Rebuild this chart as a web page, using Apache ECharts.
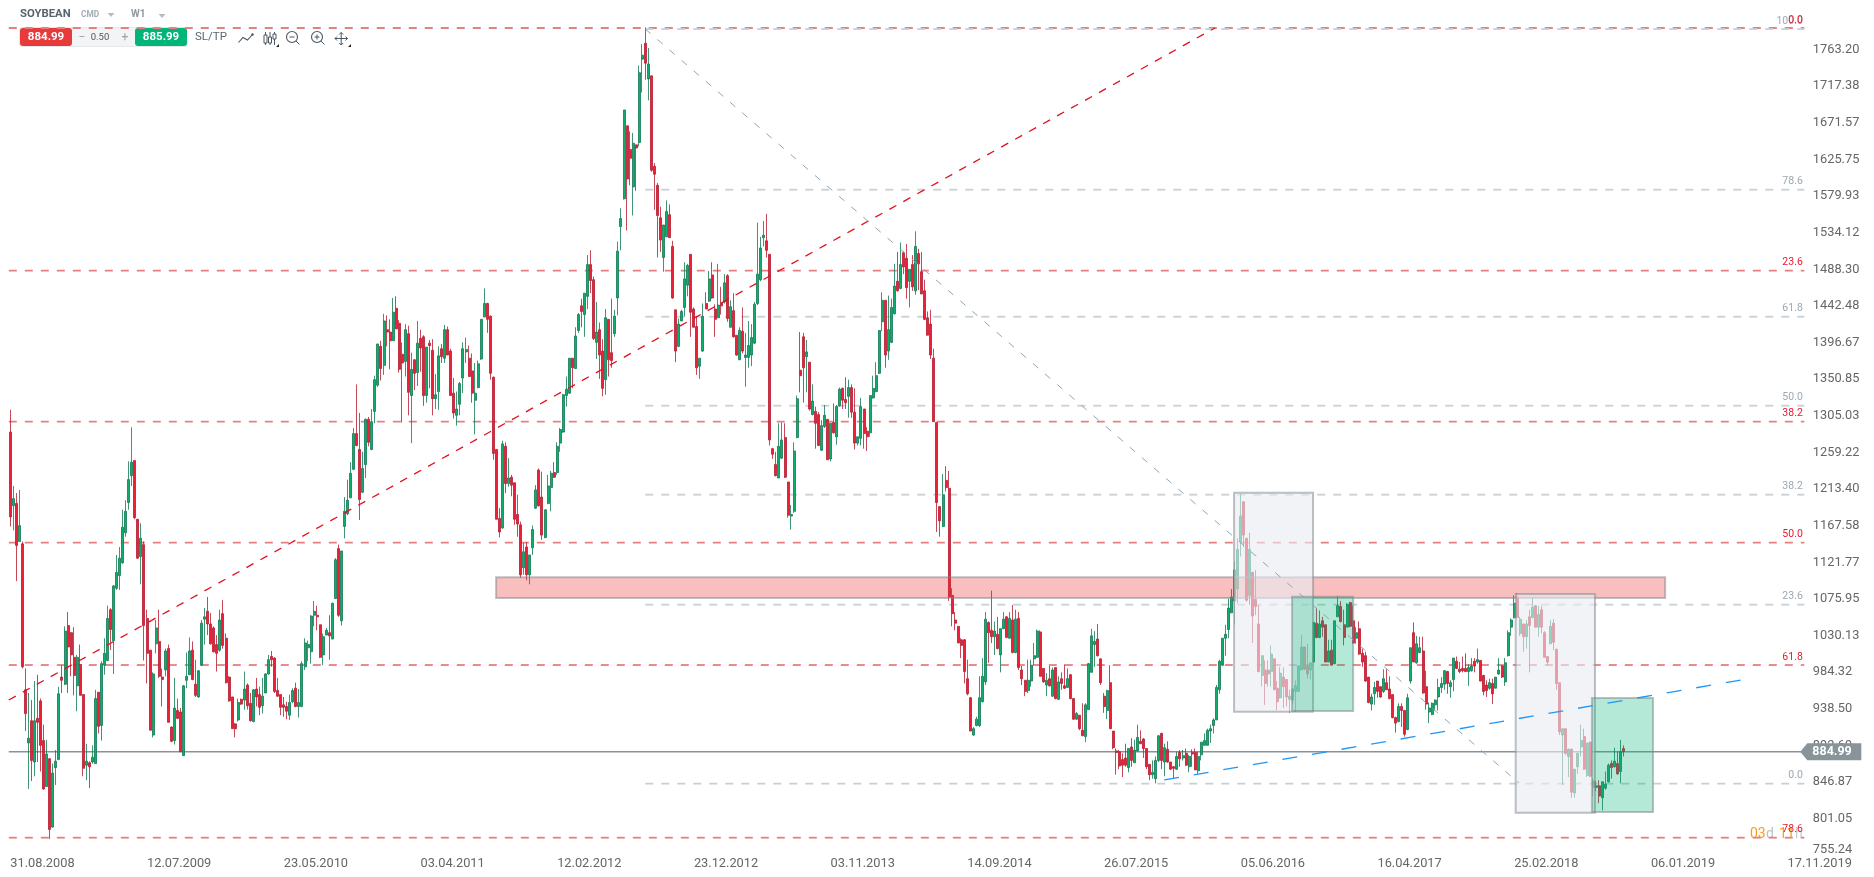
<!DOCTYPE html>
<html><head><meta charset="utf-8"><title>SOYBEAN W1</title>
<style>html,body{margin:0;padding:0;background:#fff}#c{width:1874px;height:877px}</style>
<script src="https://cdn.jsdelivr.net/npm/echarts@6/dist/echarts.min.js"></script>
</head><body><div id="c"></div><script>
// weekly candles: [open, close, low, high]
const weeks000=[[1288,1181,1169,1316],[1195,1204,1164,1220],[1198,1145,1100,1211],[1150,1170,1150,1215],[1147,992,990,1150],[963,933,911,990],[896,902,838,959],[924,874,848,950],[872,924,854,974],[927,922,872,982],[949,893,860,952],[899,838,837,919],[841,882,841,900],[876,787,775,877],[790,858,789,870],[865,873,843,887],[875,958,875,967],[979,975,959,994],[970,1037,969,1043],[1044,1017,959,1061],[1035,1007,980,1036],[1004,981,956,1042],[968,1004,936,1007],[995,956,956,1020],[957,864,854,957],[868,873,849,895],[871,866,839,873],[872,878,870,893],[870,952,870,963],[960,917,908,960],[918,996,899,999],[994,1009,982,1028],[1000,1053,999,1069],[1064,1039,1013,1066],[1025,1094,983,1095],[1091,1111,1089,1133],[1107,1129,1089,1143],[1123,1168,1122,1190],[1161,1188,1156,1202],[1199,1228,1190,1251],[1233,1250,1220,1294],[1252,1180,1178,1252],[1178,1129,1128,1178],[1131,1154,1096,1173],[1146,1044,1000,1150],[1053,1009,971,1064],[1013,912,912,1013],[906,983,903,985],[1021,1041,1009,1051],[1024,980,978,1064]];
const weeks050=[[979,976,942,990],[988,1012,980,1015],[1015,922,922,1020],[916,898,897,917],[899,940,894,978],[937,927,926,952],[935,885,885,940],[880,968,880,969],[975,980,965,1010],[982,1012,982,1029],[1013,976,975,1024],[970,956,954,1001],[954,987,953,988],[994,1047,993,1051],[1052,1055,1020,1066],[1062,1046,1032,1080],[1046,1021,1020,1060],[1041,1011,1010,1043],[1020,1009,986,1032],[1013,1051,1011,1064],[1059,1019,1015,1076],[1028,972,971,1034],[979,949,948,980],[954,914,914,954],[920,914,903,921],[925,947,923,952],[951,945,944,952],[950,964,938,986],[969,943,938,971],[946,924,923,959],[923,963,922,964],[964,954,942,978],[957,941,931,967],[943,955,933,978],[959,983,959,984],[983,1001,982,1007],[1005,1001,992,1012],[1003,961,959,1004],[962,955,954,978],[957,941,931,957],[944,941,929,954],[942,936,926,948],[931,947,925,957],[948,962,946,965],[965,942,941,972],[942,947,928,964],[942,996,941,999],[992,1022,988,1028],[1016,1020,999,1025],[1011,1056,996,1057]];
const weeks100=[[1057,1062,1043,1075],[1057,1055,1038,1069],[1045,1004,1003,1045],[1007,1030,994,1034],[1032,1038,1032,1041],[1035,1031,1001,1057],[1027,1072,1027,1073],[1078,1127,1078,1129],[1141,1057,1055,1146],[1050,1138,1044,1138],[1169,1188,1154,1206],[1185,1202,1183,1228],[1205,1236,1205,1250],[1241,1286,1240,1293],[1286,1271,1270,1348],[1266,1203,1177,1312],[1212,1242,1211,1263],[1247,1304,1230,1305],[1304,1275,1270,1307],[1266,1301,1265,1317],[1314,1354,1299,1359],[1347,1399,1345,1399],[1396,1368,1353,1403],[1372,1428,1360,1437],[1417,1414,1396,1435],[1414,1403,1367,1430],[1403,1439,1403,1457],[1444,1418,1418,1459],[1425,1367,1363,1429],[1386,1375,1300,1401],[1377,1417,1358,1424],[1412,1338,1309,1422],[1334,1367,1274,1388],[1379,1362,1341,1380],[1363,1400,1346,1428],[1406,1394,1364,1417],[1408,1334,1321,1410],[1334,1395,1325,1395],[1400,1397,1343,1404],[1391,1330,1309,1405],[1330,1335,1317,1361],[1339,1384,1316,1396],[1393,1383,1375,1399],[1381,1417,1375,1423],[1417,1385,1385,1421],[1390,1334,1334,1393],[1337,1312,1305,1356],[1309,1317,1296,1339],[1323,1349,1309,1351],[1356,1393,1337,1401]];
const weeks150=[[1389,1392,1375,1407],[1381,1358,1358,1397],[1365,1337,1325,1387],[1328,1337,1285,1375],[1344,1374,1343,1378],[1380,1430,1379,1430],[1433,1450,1433,1469],[1450,1430,1413,1451],[1434,1362,1354,1435],[1357,1261,1253,1358],[1266,1178,1178,1266],[1179,1162,1155,1192],[1167,1273,1166,1277],[1270,1223,1211,1275],[1223,1230,1219,1255],[1231,1221,1207,1234],[1224,1178,1171,1224],[1184,1172,1156,1209],[1171,1108,1104,1175],[1117,1137,1108,1148],[1143,1108,1101,1149],[1108,1133,1096,1133],[1142,1165,1133,1170],[1192,1215,1191,1221],[1240,1195,1194,1242],[1206,1158,1152,1238],[1155,1190,1154,1190],[1198,1220,1197,1234],[1218,1236,1188,1239],[1237,1231,1230,1250],[1237,1270,1234,1275],[1274,1291,1263,1293],[1288,1335,1287,1336],[1334,1342,1320,1358],[1337,1381,1336,1381],[1381,1369,1343,1381],[1368,1409,1368,1420],[1416,1436,1413,1438],[1447,1440,1420,1456],[1436,1463,1408,1463],[1459,1499,1443,1511],[1499,1479,1463,1517],[1480,1406,1404,1484],[1401,1414,1380,1452],[1417,1385,1355,1426],[1390,1343,1333,1405],[1354,1432,1335,1443],[1430,1379,1358,1430],[1388,1378,1369,1456],[1412,1434,1408,1442]];
const weeks200=[[1457,1516,1435,1528],[1547,1557,1517,1570],[1582,1694,1581,1694],[1674,1607,1542,1674],[1644,1633,1599,1667],[1597,1652,1561,1665],[1650,1646,1592,1650],[1653,1741,1648,1750],[1758,1763,1716,1777],[1778,1753,1732,1798],[1733,1752,1706,1772],[1737,1618,1616,1737],[1623,1613,1568,1627],[1599,1561,1508,1602],[1558,1530,1515,1572],[1508,1549,1490,1549],[1534,1566,1534,1580],[1562,1533,1533,1575],[1522,1457,1456,1529],[1442,1390,1376,1442],[1396,1424,1395,1431],[1428,1440,1428,1442],[1445,1481,1434,1502],[1473,1498,1459,1500],[1512,1439,1408,1512],[1443,1420,1420,1445],[1421,1369,1360,1434],[1371,1381,1355,1381],[1390,1434,1389,1450],[1450,1443,1443,1464],[1453,1481,1452,1491],[1486,1457,1456,1502],[1443,1430,1408,1449],[1432,1448,1432,1500],[1451,1447,1436,1471],[1452,1476,1450,1487],[1485,1431,1427,1487],[1420,1446,1420,1454],[1441,1408,1407,1463],[1410,1385,1384,1410],[1379,1416,1379,1420],[1415,1390,1387,1445],[1382,1385,1345,1413],[1382,1397,1369,1428],[1385,1407,1371,1424],[1400,1449,1399,1452],[1450,1487,1448,1552],[1480,1520,1478,1534],[1533,1536,1522,1554],[1529,1517,1508,1563]];
const weeks250=[[1512,1278,1271,1512],[1267,1260,1254,1268],[1247,1233,1232,1263],[1230,1270,1230,1299],[1255,1278,1254,1300],[1281,1231,1230,1299],[1225,1183,1180,1225],[1182,1184,1165,1196],[1188,1264,1186,1275],[1281,1330,1280,1334],[1366,1359,1338,1414],[1408,1369,1325,1413],[1383,1389,1338,1404],[1376,1317,1315,1376],[1310,1327,1309,1348],[1314,1299,1267,1320],[1310,1271,1271,1313],[1265,1296,1264,1303],[1295,1309,1293,1322],[1304,1253,1253,1304],[1254,1299,1251,1299],[1300,1287,1286,1324],[1282,1320,1272,1322],[1321,1342,1320,1344],[1343,1328,1317,1344],[1329,1325,1317,1357],[1333,1344,1306,1354],[1344,1313,1306,1348],[1313,1274,1266,1343],[1274,1282,1271,1282],[1280,1320,1271,1331],[1317,1286,1267,1317],[1289,1282,1264,1294],[1287,1334,1282,1334],[1331,1343,1330,1359],[1339,1359,1338,1376],[1362,1416,1361,1416],[1427,1454,1415,1464],[1454,1385,1369,1454],[1390,1417,1379,1460],[1401,1445,1400,1456],[1437,1472,1436,1500],[1478,1466,1465,1515],[1469,1499,1468,1527],[1514,1496,1487,1516],[1507,1470,1456,1525],[1478,1493,1445,1493],[1499,1471,1466,1511],[1466,1522,1461,1541],[1513,1500,1467,1519]];
const weeks300=[[1490,1462,1462,1515],[1466,1430,1429,1480],[1432,1410,1410,1440],[1424,1385,1380,1442],[1381,1301,1301,1393],[1300,1199,1162,1300],[1194,1176,1156,1194],[1169,1209,1168,1235],[1227,1218,1213,1245],[1217,1080,1075,1239],[1082,1059,1043,1091],[1051,1047,1038,1061],[1043,1022,1022,1043],[1026,1019,1003,1028],[1026,986,971,1027],[977,958,956,1001],[953,911,911,954],[906,914,905,916],[918,926,917,929],[918,953,916,980],[948,980,947,1003],[973,1052,969,1061],[1048,1035,997,1049],[1038,1030,1022,1088],[1030,1037,1007,1049],[1033,1015,1014,1055],[1007,1040,985,1040],[1040,1052,1040,1061],[1055,1029,1028,1056],[1028,1053,1028,1061],[1051,1010,1009,1070],[1010,1052,1009,1064],[1053,991,988,1061],[988,977,969,993],[975,961,955,975],[962,975,959,1001],[974,994,967,1001],[1002,1006,994,1022],[1004,1037,1003,1039],[1036,980,980,1038],[990,973,972,990],[969,975,955,984],[977,968,967,993],[955,988,954,991],[991,952,951,991],[951,973,950,980],[977,971,963,985],[968,965,964,995],[966,977,966,990],[982,952,951,983]];
const weeks350=[[952,926,925,952],[926,933,925,935],[931,914,912,931],[912,905,905,946],[904,944,897,946],[938,996,938,997],[985,1031,985,1040],[1020,1024,992,1037],[1027,1006,1005,1046],[1002,972,969,1002],[955,942,934,959],[937,962,926,963],[972,914,914,994],[911,890,888,911],[886,884,856,889],[885,867,863,887],[875,868,853,883],[877,868,866,895],[865,889,859,889],[891,874,866,902],[871,887,871,900],[886,903,885,919],[898,895,895,912],[901,889,877,902],[889,866,863,889],[869,856,849,869],[856,859,851,874],[851,874,845,879],[874,905,872,906],[908,874,863,909],[872,890,854,895],[888,872,871,898],[872,863,862,872],[866,864,851,867],[863,879,862,885],[884,876,866,887],[877,880,874,887],[883,868,867,889],[866,879,859,881],[884,882,866,888],[884,862,862,889],[861,879,857,885],[881,897,874,897],[893,899,893,908],[893,912,893,914],[911,914,896,919],[918,925,908,927],[925,966,925,969],[963,999,958,1001],[994,1028,993,1028]];
const weeks400=[[1028,1033,1006,1045],[1039,1066,1028,1078],[1060,1080,1060,1090],[1075,1114,1045,1125],[1090,1140,1072,1154],[1150,1182,1131,1210],[1200,1158,1143,1200],[1154,1076,1074,1154],[1082,1140,1070,1161],[1111,1056,1022,1112],[1077,1068,1057,1114],[1046,986,985,1070],[981,1006,967,1006],[988,971,944,1000],[988,983,967,1000],[986,1008,967,1019],[1002,963,963,1002],[965,948,937,974],[953,984,952,992],[979,967,940,991],[976,954,942,976],[951,955,934,963],[950,964,945,965],[961,968,935,975],[961,993,960,994],[988,1017,988,1032],[1017,989,988,1017],[993,983,977,1021],[988,997,976,998],[998,1048,998,1048],[1047,1029,1028,1066],[1029,1046,1028,1063],[1050,1042,1030,1055],[1045,998,998,1045],[998,1012,998,1026],[1013,994,994,1026],[996,1050,995,1050],[1055,1069,1055,1081],[1068,1049,1048,1075],[1045,1029,1019,1064],[1042,1071,1042,1072],[1073,1043,1042,1074],[1050,1022,1021,1069],[1028,1035,1021,1042],[1040,1008,1007,1049],[1009,998,992,1015],[1006,974,973,1011],[979,947,946,979],[945,954,937,958],[958,966,944,973]];
const weeks450=[[974,961,953,974],[967,954,953,967],[961,977,959,989],[972,963,963,989],[964,952,951,980],[957,928,927,957],[928,921,909,929],[923,942,922,946],[942,937,916,946],[937,907,904,937],[913,953,912,958],[974,1016,971,1016],[1035,998,998,1048],[997,1021,996,1031],[1010,1016,1009,1030],[1012,959,958,1030],[967,945,938,987],[935,940,921,947],[932,946,931,947],[944,950,937,951],[954,966,937,977],[966,971,959,979],[970,987,963,988],[986,971,958,987],[967,972,953,975],[976,1003,961,1003],[999,990,989,1005],[989,986,984,998],[990,987,985,1005],[990,986,986,1009],[986,991,968,995],[987,993,986,1003],[999,993,985,1003],[998,1001,996,1015],[1000,974,974,1000],[981,961,956,982],[969,962,954,975],[965,972,963,977],[971,958,945,977],[965,979,965,979],[983,988,982,1003],[993,979,978,994],[973,997,968,1003],[1006,1035,1005,1038],[1042,1051,1031,1053],[1054,1072,1053,1082],[1080,1054,1053,1085],[1034,1052,1031,1055],[1046,1030,1011,1046],[1030,1046,1015,1051]];
const weeks500=[[1055,1044,985,1064],[1054,1067,1053,1079],[1069,1042,1042,1070],[1042,1058,1030,1069],[1064,1042,1034,1069],[1035,1004,1003,1037],[1005,998,994,1005],[1021,1043,1021,1051],[1047,1023,1013,1052],[1014,971,963,1015],[972,910,906,972],[906,914,843,914],[914,883,881,914],[879,888,853,889],[888,834,827,889],[833,863,827,863],[866,883,857,883],[891,899,879,919],[904,863,862,914],[855,896,853,896],[897,854,853,898],[848,840,829,851],[840,842,835,848],[842,829,820,849],[827,847,811,847],[839,844,837,860],[847,868,846,870],[870,865,851,874],[866,873,865,890],[870,857,856,885],[860,885,845,900],[889,885,879,893]];

// levels and trend lines: week position on the time scale, price
const redLevels=[1790.3,1486.7,1297.8,1146.4,993.4,777.4];
const redLevelNames=['0.0','23.6','38.2','50.0','61.8','78.6'];
const greyLevels=[1789,1588,1429.1,1317.8,1206.5,1068.9,845];
const greyLevelNames=['100.0','78.6','61.8','50.0','38.2','23.6','0.0'];
const currentPrice=884.99;
const redTrend=[[0,949.7],[397,1790.3]];
const greyTrend=[[209.5,1789],[497.1,845.8]];
const blueTrend=[[380.3,849.6],[570.2,974.7]];
const pinkZone=[[160.4,545.2,1103.2,1077.3]];
const greyZones=[[403.3,429.3,1209,935],[496,522.1,1082.3,808.7]];
const greenZones=[[422.4,442.5,1078.9,935.9],[521.1,541.2,952.2,809.6]];
const yTicks=[1763.20,1717.38,1671.57,1625.75,1579.93,1534.12,1488.30,1442.48,1396.67,1350.85,1305.03,1259.22,1213.40,1167.58,1121.77,1075.95,1030.13,984.32,938.50,892.69,846.87,801.05,755.24];
const xTickLabels=['31.08.2008','12.07.2009','23.05.2010','03.04.2011','12.02.2012','23.12.2012','03.11.2013','14.09.2014','26.07.2015','05.06.2016','16.04.2017','25.02.2018','06.01.2019','17.11.2019'];
const weeksOnAxis=591, weeksPerLabel=45;
// the candle rows were read against a slightly coarser price ruler than the printed ticks
const rulerCorrection=0.99231;

const toAxisPrice=p=>+(currentPrice+(p-currentPrice)*rulerCorrection).toFixed(2);
const candles=[].concat(weeks000,weeks050,weeks100,weeks150,weeks200,weeks250,weeks300,weeks350,weeks400,weeks450,weeks500).map(r=>r.map(toAxisPrice));
const categories=new Array(weeksOnAxis).fill('');
xTickLabels.forEach((t,i)=>{categories[i*weeksPerLabel]=t;});
const TEXT='Roboto, sans-serif';

function hLine(price,x0,color){
  return {type:'line',xAxisIndex:1,yAxisIndex:0,symbol:'none',silent:true,z:1,animation:false,
    data:[[x0,price],[weeksOnAxis,price]],lineStyle:{color:color,width:1.8,type:[8,8]}};
}
function trend(data,color,width,dash){
  return {type:'line',xAxisIndex:1,yAxisIndex:0,symbol:'none',silent:true,z:6,animation:false,
    data:data,lineStyle:{color:color,width:width,type:dash}};
}
function zones(data,fill,z){
  return {type:'custom',xAxisIndex:1,yAxisIndex:0,z:z,silent:true,animation:false,clip:false,data:data,
    renderItem:(p,api)=>{
      const a=api.coord([api.value(0),api.value(2)]),b=api.coord([api.value(1),api.value(3)]);
      return {type:'rect',shape:{x:a[0],y:a[1],width:b[0]-a[0],height:b[1]-a[1]},
        style:{fill:fill,stroke:'rgba(125,132,138,0.5)',lineWidth:2}};
    }};
}
function levelLabels(prices,names,color){
  return {type:'custom',xAxisIndex:1,yAxisIndex:0,z:7,silent:true,animation:false,clip:false,
    data:prices.map((p,i)=>[weeksOnAxis,p,names[i]]),
    renderItem:(p,api)=>{
      const a=api.coord([api.value(0),api.value(1)]);
      return {type:'text',style:{x:a[0]-1.5,y:a[1]-2.5,text:names[p.dataIndex],fill:color,
        font:'10.5px '+TEXT,align:'right',verticalAlign:'bottom'}};
    }};
}
const series=[];
redLevels.forEach(p=>series.push(hLine(p,0,'#e87f7f')));
greyLevels.forEach(p=>series.push(hLine(p,209.5,'#c7d0d4')));
series.push({type:'line',xAxisIndex:1,yAxisIndex:0,symbol:'none',silent:true,z:1,animation:false,
  data:[[0,currentPrice],[weeksOnAxis,currentPrice]],lineStyle:{color:'#87929a',width:1.5}});
series.push({type:'candlestick',xAxisIndex:0,yAxisIndex:0,data:candles,barWidth:2.5,z:3,animation:false,
  itemStyle:{color:'#0fae6e',color0:'#ee2038',borderColor:'#0f7a52',borderColor0:'#b71b30',borderWidth:0.8}});
series.push(zones(pinkZone,'rgba(236,40,40,0.3)',4));
series.push(zones(greyZones,'rgba(232,236,241,0.62)',4));
series.push(zones(greenZones,'rgba(0,178,118,0.29)',5));
series.push(trend(redTrend,'#e2101f',1.3,[8,8]));
series.push(trend(greyTrend,'#92a5b0',1,[7,9]));
series.push(trend(blueTrend,'#2196f3',1.3,[15,15]));
series.push(levelLabels(greyLevels,greyLevelNames,'#9aa9b3'));
series.push(levelLabels(redLevels,redLevelNames,'#e8192c'));
series.push({type:'custom',xAxisIndex:1,yAxisIndex:0,z:8,silent:true,animation:false,clip:false,data:[[weeksOnAxis,currentPrice]],
  renderItem:(p,api)=>{
    const a=api.coord([api.value(0),api.value(1)]);const x=a[0]-4,y=a[1];
    return {type:'group',children:[
      {type:'polygon',shape:{points:[[x,y],[x+7,y-8.5],[x+61,y-8.5],[x+61,y+8.5],[x+7,y+8.5]]},style:{fill:'#87949a'}},
      {type:'text',style:{x:x+12,y:y,text:currentPrice.toFixed(2),fill:'#fff',font:'bold 12.5px '+TEXT,align:'left',verticalAlign:'middle'}}
    ]};
  }});

const ink='#4b5761';
const txt=(x,y,t,fill,font,align)=>({type:'text',silent:true,style:{x:x,y:y,text:t,fill:fill,font:font+' '+TEXT,align:align||'left',verticalAlign:'middle'}});
const ln=(x1,y1,x2,y2,c,w)=>({type:'line',silent:true,shape:{x1,y1,x2,y2},style:{stroke:c||ink,lineWidth:w||1}});
const tri=(x,y,c,s)=>({type:'polygon',silent:true,shape:{points:[[x-s,y-2],[x+s,y-2],[x,y+2]]},style:{fill:c}});
const graphic=[
  {type:'rect',silent:true,shape:{x:12,y:26,width:342,height:22},style:{fill:'rgba(255,255,255,0.85)'}},
  txt(20,14.5,'SOYBEAN','#57636d','bold 11.3px'),
  txt(81,14.5,'CMD','#9fadb6','bold 8.3px'),
  tri(111,15,'#b5bdc2',3.5),
  txt(131,14.5,'W1','#8f9aa3','bold 10px'),
  tri(162,16,'#b5bdc2',3.5),
  {type:'rect',silent:true,shape:{x:19.5,y:27.5,width:167.5,height:19,r:2},style:{fill:'#f2f4f6',stroke:'#e6e9ec',lineWidth:1}},
  {type:'rect',silent:true,shape:{x:20,y:28,width:52,height:18,r:3},style:{fill:'#e73a3a'}},
  {type:'rect',silent:true,shape:{x:135,y:28,width:52,height:18,r:3},style:{fill:'#00b578'}},
  txt(46,37.5,'884.99','#fff','bold 11.5px','center'),
  txt(161,37.5,'885.99','#fff','bold 11.5px','center'),
  txt(82,37.5,'−','#9aa3aa','12px','center'),
  txt(100,37.7,'0.50','#555','9.5px','center'),
  txt(125,37.5,'+','#9aa3aa','12px','center'),
  txt(195,37.5,'SL/TP','#5a6670','11.5px'),
  {type:'polyline',silent:true,shape:{points:[[238.5,42.5],[243,37.5],[247.5,40],[252.5,34.5]]},style:{stroke:ink,fill:'none',lineWidth:1.1}},
  {type:'circle',silent:true,shape:{cx:252.5,cy:34.5,r:1.2},style:{fill:ink}},
  ln(265.5,32,265.5,45),ln(270,32,270,45),ln(274.5,32,274.5,45),
  {type:'rect',silent:true,shape:{x:264,y:35,width:3,height:8},style:{fill:'#fff',stroke:ink}},
  {type:'rect',silent:true,shape:{x:268.5,y:37,width:3,height:6},style:{fill:'#fff',stroke:ink}},
  {type:'rect',silent:true,shape:{x:273,y:34,width:3,height:5},style:{fill:'#fff',stroke:ink}},
  {type:'polygon',silent:true,shape:{points:[[279,44],[279,47],[276,47]]},style:{fill:'#222'}},
  {type:'circle',silent:true,shape:{cx:292,cy:37,r:5.5},style:{fill:'none',stroke:ink,lineWidth:1.1}},
  ln(296,41,299.5,44.5),ln(289.5,37,294.5,37),
  {type:'circle',silent:true,shape:{cx:317,cy:37,r:5.5},style:{fill:'none',stroke:ink,lineWidth:1.1}},
  ln(321,41,324.5,44.5),ln(314.5,37,319.5,37),ln(317,34.5,317,39.5),
  ln(335,38.5,347.5,38.5),ln(341.2,32.5,341.2,45),
  {type:'polyline',silent:true,shape:{points:[[337,36.5],[335,38.5],[337,40.5]]},style:{stroke:ink,fill:'none'}},
  {type:'polyline',silent:true,shape:{points:[[345.5,36.5],[347.5,38.5],[345.5,40.5]]},style:{stroke:ink,fill:'none'}},
  {type:'polyline',silent:true,shape:{points:[[339.2,34.5],[341.2,32.5],[343.2,34.5]]},style:{stroke:ink,fill:'none'}},
  {type:'polyline',silent:true,shape:{points:[[339.2,43],[341.2,45],[343.2,43]]},style:{stroke:ink,fill:'none'}},
  {type:'polygon',silent:true,shape:{points:[[351,44],[351,47],[348,47]]},style:{fill:'#222'}},
  txt(1750,834.5,'03','#ff9a1f','14px'),
  txt(1766,834.5,'d','#b9bfc3','14px'),
  txt(1779,834.5,'11','#ff9a1f','14px'),
  txt(1795,834.5,'h','#c6cbce','14px')
];

const axisInk='#666';
const chart=echarts.init(document.getElementById('c'),null,{renderer:'canvas'});
chart.setOption({
  animation:false,backgroundColor:'#fff',
  grid:{left:8.8,top:10,width:1795.5,height:846,containLabel:false},
  xAxis:[
    {type:'category',data:categories,boundaryGap:true,axisLine:{show:false},axisTick:{show:false},splitLine:{show:false},
     axisLabel:{interval:weeksPerLabel-1,align:'left',margin:1,color:axisInk,fontFamily:TEXT,fontSize:12.8,hideOverlap:false}},
    {type:'value',min:0,max:weeksOnAxis,show:false,splitLine:{show:false}}
  ],
  yAxis:{type:'value',position:'right',min:754.5,max:1812.8,axisLine:{show:false},axisTick:{show:false},splitLine:{show:false},
    axisLabel:{customValues:yTicks,margin:8.5,color:axisInk,fontFamily:TEXT,fontSize:12.8,
      formatter:v=>v===yTicks[yTicks.length-1]?'{low|'+v.toFixed(2)+'}':v.toFixed(2),
      rich:{low:{color:axisInk,fontFamily:TEXT,fontSize:12.8,padding:[0,0,12,0]}}}},
  graphic:{elements:graphic},
  series:series
});
</script></body></html>
